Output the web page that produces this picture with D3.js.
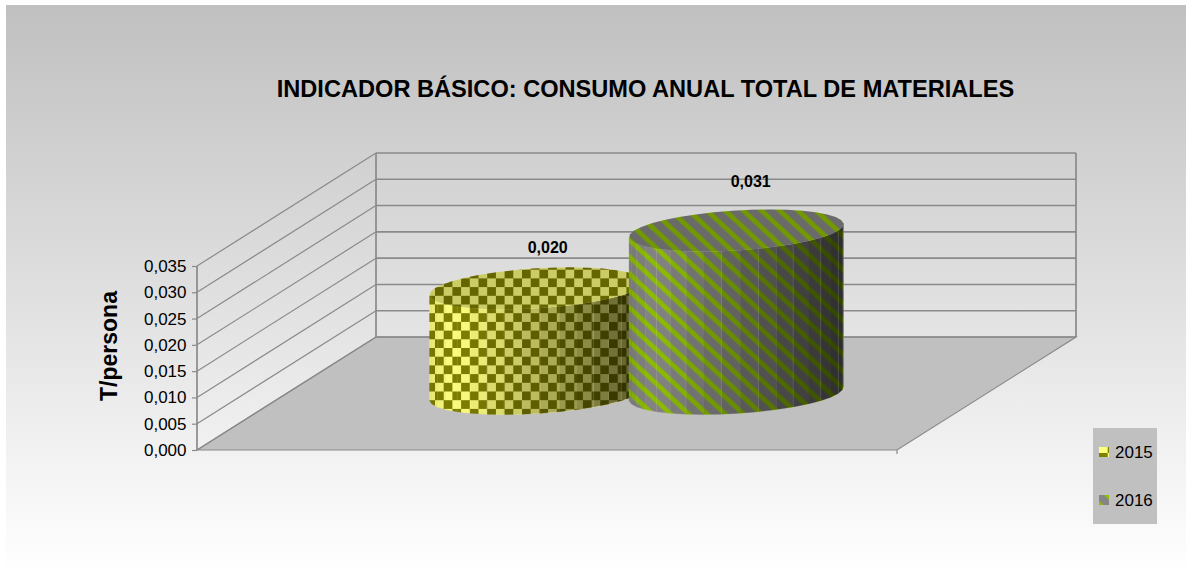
<!DOCTYPE html>
<html>
<head>
<meta charset="utf-8">
<script src="https://cdnjs.cloudflare.com/ajax/libs/d3/7.8.5/d3.min.js"></script>
<style>
html,body{margin:0;padding:0;background:#fff;}
svg{display:block;}
text{font-family:"Liberation Sans",Arial,sans-serif;fill:#000;}
</style>
</head>
<body>
<script>
// Annual material consumption per person
const years = ["2015", "2016"];
const values = [0.020, 0.031];
const valueLabels = ["0,020", "0,031"];
const tickValues = [0, 0.005, 0.010, 0.015, 0.020, 0.025, 0.030, 0.035];
const tickLabels = ["0,000", "0,005", "0,010", "0,015", "0,020", "0,025", "0,030", "0,035"];
const titleText = "INDICADOR BÁSICO: CONSUMO ANUAL TOTAL DE MATERIALES";
const axisTitle = "T/persona";

const W = 1192, H = 581;
const svg = d3.select("body").append("svg").attr("width", W).attr("height", H);
const defs = svg.append("defs");

// Backdrop gradient
const grad = defs.append("linearGradient").attr("id", "bg")
  .attr("x1", 0).attr("y1", 0).attr("x2", 0).attr("y2", 1);
grad.append("stop").attr("offset", 0).attr("stop-color", "#c0c0c0");
grad.append("stop").attr("offset", 1).attr("stop-color", "#ffffff");
svg.append("rect").attr("x", 6).attr("y", 5).attr("width", 1180).attr("height", 570).attr("fill", "url(#bg)");

// Fill patterns for the two series
const cell = 8.7;
const checker = defs.append("pattern").attr("id", "fill2015")
  .attr("patternUnits", "userSpaceOnUse").attr("width", cell * 2).attr("height", cell * 2);
checker.append("rect").attr("width", cell * 2).attr("height", cell * 2).attr("fill", "#ffff80");
checker.append("rect").attr("x", cell).attr("width", cell).attr("height", cell).attr("fill", "#808000");
checker.append("rect").attr("y", cell).attr("width", cell).attr("height", cell).attr("fill", "#808000");

const stripePeriod = 12.4;
const stripes = defs.append("pattern").attr("id", "fill2016")
  .attr("patternUnits", "userSpaceOnUse").attr("width", stripePeriod).attr("height", stripePeriod)
  .attr("patternTransform", "rotate(43)");
stripes.append("rect").attr("width", stripePeriod).attr("height", stripePeriod).attr("fill", "#858585");
stripes.append("rect").attr("y", 4.2).attr("width", stripePeriod).attr("height", 4.8).attr("fill", "#8fc000");

const fills = d3.scaleOrdinal().domain(years).range(["url(#fill2015)", "url(#fill2016)"]);

// Oblique projection of the plot box
const front = { x0: 197, x1: 897, y: 450 };
const depth = { dx: 179, dy: -113 };
const y = d3.scaleLinear().domain([0, 0.035]).range([450, 266]);
const lineColor = "#8a8a8a";
const backX0 = front.x0 + depth.dx, backX1 = front.x1 + depth.dx;

const floorPts = [[front.x0, front.y], [backX0, front.y + depth.dy],
  [backX1, front.y + depth.dy], [front.x1, front.y]];
svg.append("path").attr("d", d3.line()(floorPts) + "Z")
  .attr("fill", "#c0c0c0").attr("stroke", lineColor).attr("stroke-width", 1.2);

// Gridlines run along the side wall, then across the back wall
const grid = svg.append("g").attr("fill", "none").attr("stroke", lineColor);
grid.selectAll("line.side").data(tickValues).join("line").attr("class", "side")
  .attr("x1", front.x0).attr("y1", v => y(v))
  .attr("x2", backX0).attr("y2", v => y(v) + depth.dy)
  .attr("stroke-width", 1.2);
grid.selectAll("line.back").data(tickValues).join("line").attr("class", "back")
  .attr("x1", backX0).attr("y1", v => y(v) + depth.dy)
  .attr("x2", backX1).attr("y2", v => y(v) + depth.dy)
  .attr("stroke-width", 1.6);

// Wall edges
const wallTop = y(0.035);
[[front.x0, wallTop, front.y], [backX0, wallTop + depth.dy, front.y + depth.dy], [backX1, wallTop + depth.dy, front.y + depth.dy]]
  .forEach(e => grid.append("line").attr("x1", e[0]).attr("y1", e[1]).attr("x2", e[0]).attr("y2", e[2]).attr("stroke-width", 1.7));
svg.append("line").attr("x1", front.x1).attr("x2", front.x1).attr("y1", front.y).attr("y2", front.y + 4)
  .attr("stroke", lineColor).attr("stroke-width", 1.2);

// Value axis
const axisG = svg.append("g").attr("transform", `translate(${front.x0},0)`)
  .call(d3.axisLeft(y).tickValues(tickValues).tickFormat((d, i) => tickLabels[i]).tickSize(5).tickSizeOuter(0));
axisG.select(".domain").remove();
axisG.selectAll(".tick line").attr("stroke", lineColor).attr("stroke-width", 1.2);
axisG.selectAll(".tick text").attr("font-size", 17).attr("x", -10.5).attr("dy", "0.32em")
  .style("font-family", '"Liberation Sans",Arial,sans-serif').attr("fill", "#000");

// Series positions across the mid-depth line of the floor
const centre = (front.x0 + front.x1 + depth.dx) / 2;
const x = d3.scaleBand().domain(years).range([centre - 199.5, centre + 199.5]);
const midY = front.y + depth.dy / 2;

// Cylinders are faceted prisms sheared into the floor plane
const radius = 102, skew = [33, -21], sides = 36;
const angles = d3.range(sides).map(i => i * 2 * Math.PI / sides);
const rim = (cx, cy, a) => [cx + radius * Math.cos(a) + skew[0] * Math.sin(a), cy + skew[1] * Math.sin(a)];
const shade = d3.scaleLinear().domain([-1, -0.75, 1]).range([0.1, 0, 0.66]).clamp(true);
const labelShift = [[11, -35], [14.5, -44]];

years.forEach((yr, i) => {
  const g = svg.append("g");
  const cx = x(yr) + x.bandwidth() / 2;
  const h = y(0) - y(values[i]);
  const topY = midY - h;
  const fill = fills(yr);

  const pts = angles.map(a => rim(cx, midY, a));

  // Walking the rim, the near side is the part that moves left to right
  const frontFaces = [];
  angles.forEach((a, k) => {
    const p = rim(cx, midY, a), q = rim(cx, midY, angles[(k + 1) % sides]);
    if (q[0] > p[0]) frontFaces.push({ p, q });
  });

  const wallFace = f => d3.line()([[f.p[0], f.p[1]], [f.q[0], f.q[1]], [f.q[0], f.q[1] - h], [f.p[0], f.p[1] - h]]) + "Z";
  g.selectAll("path.wall").data(frontFaces).join("path").attr("class", "wall")
    .attr("d", wallFace).attr("fill", fill).attr("stroke", fill).attr("stroke-width", 0.4);
  g.selectAll("path.shade").data(frontFaces).join("path").attr("class", "shade")
    .attr("d", wallFace)
    .attr("fill", "#000")
    .attr("fill-opacity", f => shade(((f.p[0] + f.q[0]) / 2 - cx) / Math.hypot(radius, skew[0])));
  g.selectAll("line.seam").data(frontFaces.filter((f, k) => k % 2 === 1)).join("line").attr("class", "seam")
    .attr("x1", f => f.q[0]).attr("x2", f => f.q[0])
    .attr("y1", f => f.q[1]).attr("y2", f => f.q[1] - h)
    .attr("stroke", "#fff").attr("stroke-opacity", 0.09).attr("stroke-width", 1);

  const lid = d3.line()(pts.map(p => [p[0], p[1] - h])) + "Z";
  g.append("path").attr("d", lid).attr("fill", fill);
  g.append("path").attr("d", lid).attr("fill", "#000").attr("fill-opacity", 0.2);

  // Value label above the cylinder
  svg.append("text").attr("class", "value-label")
    .attr("x", cx + labelShift[i][0]).attr("y", topY + labelShift[i][1])
    .attr("text-anchor", "middle").attr("font-weight", "bold").attr("font-size", 16)
    .text(valueLabels[i]);
});
svg.selectAll("text.value-label").raise();

// Titles
svg.append("text").attr("x", 645.5).attr("y", 97).attr("text-anchor", "middle")
  .attr("font-weight", "bold").attr("font-size", 23.6).text(titleText);
svg.append("text").attr("transform", "translate(116.5,346) rotate(-90)").attr("text-anchor", "middle")
  .attr("font-weight", "bold").attr("font-size", 23).text(axisTitle);

// Legend
const legend = svg.append("g").attr("transform", "translate(1093,428)");
legend.append("rect").attr("width", 64).attr("height", 96).attr("fill", "#c0c0c0");
const swatchOffset = [2.7, 0];
const rows = legend.selectAll("g").data(years).join("g")
  .attr("transform", (d, i) => `translate(6,${19 + i * 48 - swatchOffset[i]})`);
rows.append("rect").attr("y", (d, i) => swatchOffset[i]).attr("width", 10).attr("height", 10).attr("fill", d => fills(d));
rows.append("text").attr("x", 16).attr("y", (d, i) => 11 + swatchOffset[i]).attr("font-size", 17).text(d => d);
</script>
</body>
</html>
